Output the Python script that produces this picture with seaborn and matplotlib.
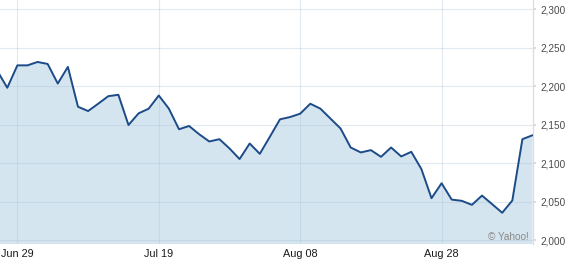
import numpy as np
import pandas as pd
import matplotlib
matplotlib.use("Agg")
import matplotlib.pyplot as plt
import seaborn as sns

# ---- data ----
dates = pd.bdate_range("2012-06-27", periods=54)
values = [2220.4, 2198.1, 2227.2, 2227.2, 2231.6, 2229.0, 2203.6, 2225.2,
          2173.5, 2167.9, 2177.4, 2187.2, 2189.0, 2149.8, 2164.9, 2171.0,
          2188.1, 2171.0, 2144.3, 2148.5, 2137.8, 2128.4, 2131.4, 2119.4,
          2105.6, 2125.8, 2112.4, 2134.6, 2157.2, 2160.1, 2164.5, 2177.4,
          2171.0, 2158.1, 2145.2, 2120.6, 2114.2, 2117.2, 2108.5, 2120.6,
          2109.0, 2115.0, 2092.6, 2054.8, 2074.2, 2053.0, 2051.4, 2046.2,
          2058.2, 2047.1, 2035.9, 2051.8, 2131.4, 2136.5]
x_tick_labels = ["Jun 29", "Jul 19", "Aug 08", "Aug 28"]
y_ticks = [2000, 2050, 2100, 2150, 2200, 2250, 2300]

df = pd.DataFrame({"date": dates, "value": values})
df["pos"] = np.arange(len(df))

label_dates = [d.strftime("%b %d") for d in df["date"]]
major_pos = [label_dates.index(l) for l in x_tick_labels]
minor_pos = [p + (major_pos[1] - major_pos[0]) / 2 for p in major_pos]

# ---- style ----
sns.set_theme(style="white")
plt.rcParams["font.family"] = ["Liberation Sans", "DejaVu Sans"]

fig = plt.figure(figsize=(5.68, 2.66), dpi=100)
ax = fig.add_axes([0.0, 0.0816, 0.9384, 0.9184])

line_color = "#1c4b88"
fill_color = "#d5e5f0"

ax.fill_between(df["pos"], df["value"], 0, color=fill_color, linewidth=0, zorder=1)
sns.lineplot(data=df, x="pos", y="value", color=line_color, linewidth=1.4, ax=ax, zorder=3)

ax.set_xlim(0.28, 53.05)
ax.set_ylim(1995, 2312)

ax.set_xticks(major_pos)
ax.set_xticklabels(x_tick_labels)
ax.set_xticks(minor_pos, minor=True)
ax.yaxis.tick_right()
ax.set_yticks(y_ticks)
ax.set_yticklabels([f"{v:,}" for v in y_ticks])

ax.set_axisbelow("line")
ax.grid(True, which="major", axis="both", color="#a9c2d8", alpha=0.35, linewidth=0.8)

ax.tick_params(axis="x", which="major", length=0, pad=3.5, labelsize=7.8, labelcolor="#1a1a1a")
ax.tick_params(axis="x", which="minor", length=3, direction="inout", color="#d6dde4", width=0.8)
ax.tick_params(axis="y", which="major", right=True, left=False, length=2.5, color="#cfd8e0",
               pad=2.5, labelsize=7.2, labelcolor="#4a4a4a")

for s in ["left", "top", "bottom"]:
    ax.spines[s].set_visible(False)
ax.spines["right"].set_color("#d8dde2")
ax.spines["right"].set_linewidth(0.9)

ax.set_xlabel("")
ax.set_ylabel("")

ax.text(0.9925, 0.031, "\u00a9 Yahoo!", transform=ax.transAxes, ha="right", va="center",
        fontsize=7.2, color="#888888", zorder=4)

fig.savefig("out.png", dpi=100)
